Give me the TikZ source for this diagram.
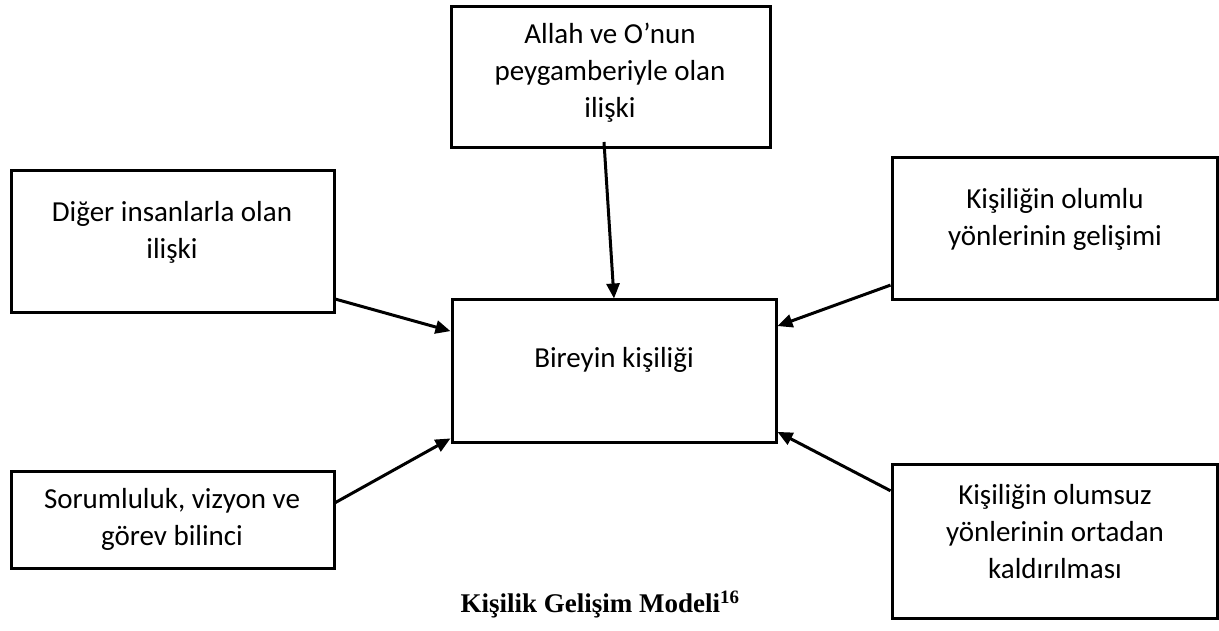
\documentclass[tikz,border=0pt]{standalone}
\usepackage{fontspec}
\setmainfont{Carlito}
\newfontfamily\capfont{Liberation Serif}
\usetikzlibrary{arrows.meta,calc}
\begin{document}
\begin{tikzpicture}[x=1pt,y=-1pt,
 box/.style={draw=black, line width=3pt, inner sep=0pt},
 txt/.style={align=center, font=\fontsize{29}{37}\selectfont, inner sep=0pt},
 arr/.style={line width=3pt, -{Triangle[length=15pt,width=13pt]}}]
\useasboundingbox (0,0) rectangle (1219,631);
\fill[white] (0,0) rectangle (1219,631);
% boxes
\node[box, minimum width=319pt, minimum height=141pt] (A) at (610.5,77.5) {};
\node[box, minimum width=324pt, minimum height=142pt] (B) at (614,371) {};
\node[box, minimum width=323pt, minimum height=142pt] (C) at (172.5,242) {};
\node[box, minimum width=325pt, minimum height=142pt] (D) at (1054.5,229) {};
\node[box, minimum width=323pt, minimum height=97pt] (E) at (172.5,519.5) {};
\node[box, minimum width=325pt, minimum height=154pt] (F) at (1054.5,541) {};
% texts
\node[txt] (At) at (610,73) {Allah ve O’nun\\peygamberiyle olan\\ilişki};
\node[txt] (Bt) at (614,360) {Bireyin kişiliği};
\node[txt] (Ct) at (172,232) {Diğer insanlarla olan\\ilişki};
\node[txt] (Dt) at (1055,219) {Kişiliğin olumlu\\yönlerinin gelişimi};
\node[txt] (Et) at (172,519) {Sorumluluk, vizyon ve\\görev bilinci};
\node[txt] (Ft) at (1055,532) {Kişiliğin olumsuz\\yönlerinin ortadan\\kaldırılması};
\node[font=\capfont\bfseries\fontsize{27}{32}\selectfont, inner sep=0pt] (cap) at (600,605) {Kişilik Gelişim Modeli\textsuperscript{16}};
% arrows
\coordinate (a1) at (604,142);
\draw[arr] (a1) -- (B.north);
\draw[arr] ($(C.north east)!0.894!(C.south east)$) -- ($(B.north west)!0.225!(B.south west)$);
\draw[arr] ($(D.north west)!0.887!(D.south west)$) -- ($(B.north east)!0.19!(B.south east)$);
\draw[arr] ($(E.north east)!0.33!(E.south east)$) -- ($(B.north west)!0.965!(B.south west)$);
\draw[arr] ($(F.north west)!0.18!(F.south west)$) -- ($(B.north east)!0.92!(B.south east)$);
\end{tikzpicture}
\end{document}
